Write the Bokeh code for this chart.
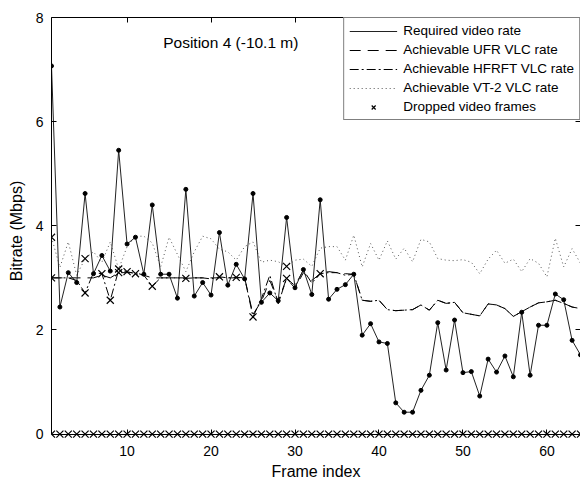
from bokeh.plotting import figure
from bokeh.models import Range1d, LinearAxis, Legend, LegendItem, Label, FixedTicker
from bokeh.embed import file_html
from bokeh.resources import INLINE

frames = list(range(1, 65))
required = [7.07, 2.44, 3.10, 2.91, 4.62, 3.08, 3.43, 3.13, 5.45, 3.65,
            3.78, 3.07, 4.40, 3.07, 3.07, 2.61, 4.70, 2.65, 2.91, 2.67,
            3.87, 2.86, 3.26, 2.98, 4.62, 2.53, 2.71, 2.56, 4.16, 2.81,
            3.16, 2.68, 4.50, 2.59, 2.78, 2.87, 3.07, 1.90, 2.12, 1.77,
            1.74, 0.60, 0.42, 0.42, 0.84, 1.13, 2.14, 1.23, 2.19, 1.18,
            1.20, 0.73, 1.44, 1.19, 1.50, 1.10, 2.34, 1.13, 2.09, 2.09,
            2.69, 2.58, 1.80, 1.52]
hfrft = [3.0, 3.0, 3.0, 2.95, 2.71, 3.1, 3.08, 2.57, 3.15, 3.12,
         3.08, 3.05, 2.84, 3.0, 3.0, 3.0, 2.99, 3.0, 3.0, 2.98,
         3.02, 3.0, 3.01, 3.0, 2.25, 2.6, 3.05, 2.5, 2.99, 2.85,
         3.15, 2.9, 3.08, 3.1, 3.1, 3.05, 3.07, 2.57, 2.55, 2.57,
         2.39, 2.37, 2.38, 2.39, 2.48, 2.38, 2.57, 2.51, 2.53, 2.33,
         2.30, 2.27, 2.50, 2.48, 2.41, 2.26, 2.35, 2.44, 2.52, 2.54,
         2.57, 2.51, 2.44, 2.41]
ufr = [3.0, 3.0, 3.0, 3.0, 3.0, 3.0, 3.05, 3.0, 3.1, 3.1,
       3.1, 3.05, 3.0, 3.0, 3.0, 3.0, 3.0, 3.0, 3.0, 3.0,
       3.0, 3.0, 3.0, 3.0, 2.3, 2.55, 2.95, 2.55, 2.99, 2.8,
       3.1, 2.95, 3.08, 3.12, 3.1, 3.08, 3.07, 2.57, 2.55, 2.57,
       2.39, 2.37, 2.38, 2.39, 2.48, 2.38, 2.57, 2.51, 2.53, 2.33,
       2.30, 2.27, 2.50, 2.48, 2.41, 2.26, 2.35, 2.44, 2.52, 2.54,
       2.57, 2.51, 2.44, 2.41]
vt2 = [3.78, 3.2, 3.69, 3.05, 3.37, 3.5, 3.3, 3.69, 3.17, 3.6,
       3.8, 3.8, 3.67, 3.21, 3.78, 3.45, 3.12, 3.5, 3.8, 3.75,
       3.55, 3.5, 3.34, 3.6, 3.69, 3.3, 3.34, 3.31, 3.22, 3.34,
       3.36, 3.22, 3.57, 3.6, 3.6, 3.34, 3.82, 3.21, 3.66, 3.34,
       3.71, 3.36, 3.57, 3.31, 3.74, 3.69, 3.37, 3.34, 3.33, 3.35,
       3.3, 3.08, 3.36, 3.53, 3.28, 3.36, 3.12, 3.37, 3.28, 3.02,
       3.76, 3.21, 3.56, 3.28]
drop_x = [1, 1, 5, 5, 7, 8, 9, 9, 10, 11, 13, 17, 21, 23, 25, 29, 29, 33]
drop_y = [3.78, 3.0, 3.37, 2.71, 3.08, 2.57, 3.17, 3.1, 3.12, 3.08,
          2.84, 2.99, 3.02, 3.01, 2.25, 3.22, 2.99, 3.08]
zero_x = frames
zero_y = [0.0] * 64
x_ticks = [10, 20, 30, 40, 50, 60]
y_ticks = [0, 2, 4, 6, 8]

FONT = "Liberation Sans"

# y range reaches a little below 0 so the markers at 0 are not cut;
# the x axis line and ticks are drawn at y = 0
p = figure(width=580, height=482, output_backend="svg", toolbar_location=None,
           x_range=Range1d(1, 64), y_range=Range1d(-0.2, 8),
           min_border_left=51, min_border_right=0, min_border_top=17, min_border_bottom=35)
p.grid.visible = False
p.outline_line_color = None

for ax in p.yaxis:
    ax.major_tick_in = 5
    ax.major_tick_out = 0
    ax.minor_tick_line_color = None
    ax.axis_line_color = "black"
    ax.major_tick_line_color = "black"
    ax.major_label_text_font = FONT
    ax.major_label_text_font_size = "14px"
    ax.major_label_text_color = "black"
    ax.axis_label_text_font = FONT
    ax.axis_label_text_font_size = "16px"
    ax.axis_label_text_font_style = "normal"
    ax.axis_label_text_color = "black"
p.yaxis.ticker = FixedTicker(ticks=y_ticks)
p.yaxis.bounds = (0, 8)
p.yaxis.axis_label = "Bitrate (Mbps)"
p.yaxis.major_label_standoff = 8
p.yaxis.axis_label_standoff = 8

# default bottom axis: only labels and title
xa = p.xaxis[0]
xa.ticker = FixedTicker(ticks=x_ticks)
xa.axis_line_color = None
xa.major_tick_line_color = None
xa.minor_tick_line_color = None
xa.major_tick_in = 0
xa.major_tick_out = 0
xa.major_label_text_font = FONT
xa.major_label_text_font_size = "14px"
xa.major_label_text_color = "black"
xa.major_label_standoff = 1
xa.axis_label = "Frame index"
xa.axis_label_text_font = FONT
xa.axis_label_text_font_size = "16px"
xa.axis_label_text_font_style = "normal"
xa.axis_label_text_color = "black"
xa.axis_label_standoff = 4

# line and ticks at y = 0 (kept in the top panel; its "out" ticks point up)
base = LinearAxis(ticker=FixedTicker(ticks=x_ticks), major_tick_in=0, major_tick_out=5,
                  minor_tick_line_color=None, major_label_text_font_size="0px",
                  major_label_standoff=0, fixed_location=0)
top = LinearAxis(ticker=FixedTicker(ticks=x_ticks), major_tick_in=5, major_tick_out=0,
                 minor_tick_line_color=None, major_label_text_font_size="0px",
                 major_label_standoff=0)
right = LinearAxis(ticker=FixedTicker(ticks=y_ticks), major_tick_in=5, major_tick_out=0,
                   minor_tick_line_color=None, major_label_text_font_size="0px",
                   major_label_standoff=0, bounds=(0, 8))
p.add_layout(top, "above")
p.add_layout(base, "above")
p.add_layout(right, "right")

r_vt2 = p.line(frames, vt2, line_color="#555555", line_width=1, line_dash="1 3")
r_ufr = p.line(frames, ufr, line_color="black", line_width=1, line_dash="11 7")
r_hf = p.line(frames, hfrft, line_color="black", line_width=1, line_dash="9 3 2 3")
r_req = p.line(frames, required, line_color="#222222", line_width=1)
r_req_pts = p.scatter(frames, required, size=4, color="black")
r_drop = p.scatter(drop_x, drop_y, marker="x", size=10, line_color="black", line_width=1.2)
r_zero = p.scatter(zero_x, zero_y, marker="x", size=10, line_color="black", line_width=1.2)

legend = Legend(items=[
    LegendItem(label="Required video rate", renderers=[r_req]),
    LegendItem(label="Achievable UFR VLC rate", renderers=[r_ufr]),
    LegendItem(label="Achievable HFRFT VLC rate", renderers=[r_hf]),
    LegendItem(label="Achievable VT-2 VLC rate", renderers=[r_vt2]),
    LegendItem(label="Dropped video frames", renderers=[r_drop]),
], location="top_right", margin=0, padding=5, spacing=4,
   glyph_width=48, glyph_height=14, label_height=14, label_standoff=6,
   label_text_font=FONT, label_text_font_size="13.5px", label_text_color="black",
   border_line_color="black", border_line_width=1, background_fill_alpha=1)
p.add_layout(legend, "center")

p.add_layout(Label(x=14.3, y=7.52, text="Position 4 (-10.1 m)", text_font=FONT,
                   text_font_size="15.5px", text_baseline="middle", text_color="black"))

open("out.html", "w").write(file_html(p, INLINE))
